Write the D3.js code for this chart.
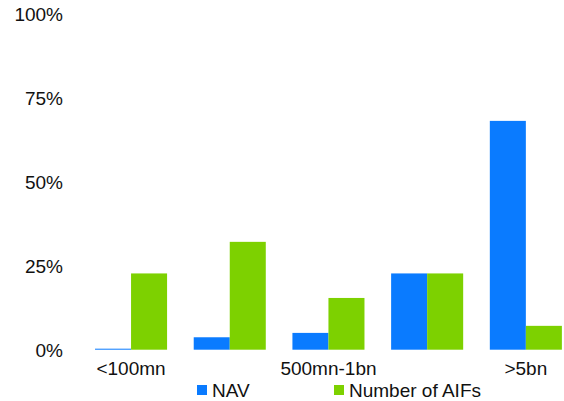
<!DOCTYPE html>
<html>
<head>
<meta charset="utf-8">
<script src="https://cdn.jsdelivr.net/npm/d3@7"></script>
<style>
  html, body { margin: 0; padding: 0; background: #fff; overflow: hidden; }
  svg { display: block; font-family: "Liberation Sans", Arial, sans-serif; }
</style>
</head>
<body>
<svg id="chart" width="564" height="401"></svg>
<script>
const categories = ["<100mn", "100mn-500mn", "500mn-1bn", "1bn-5bn", ">5bn"];
const shownLabels = ["<100mn", "500mn-1bn", ">5bn"];
const seriesNames = ["NAV", "Number of AIFs"];
const navValues = [0.003, 0.037, 0.050, 0.227, 0.681];
const aifValues = [0.227, 0.321, 0.154, 0.227, 0.071];
const yTicks = [0, 0.25, 0.5, 0.75, 1];
const colors = ["#0A7BFF", "#7DD100"];

const svg = d3.select("#chart");
const seriesValues = [navValues, aifValues];

const x0 = d3.scaleBand().domain(categories).range([81.7, 575.2])
  .paddingInner(0.27).paddingOuter(0.135);
const x1 = d3.scaleBand().domain(seriesNames).range([0, x0.bandwidth()]);
const y = d3.scaleLinear().domain([0, 1]).range([349.7, 13.7]);
const color = d3.scaleOrdinal().domain(seriesNames).range(colors);

// bars
const groups = svg.append("g").selectAll("g")
  .data(categories).join("g")
  .attr("transform", c => `translate(${x0(c)},0)`);
groups.selectAll("rect")
  .data((c, i) => seriesNames.map((s, k) => ({ s, v: seriesValues[k][i] })))
  .join("rect")
  .attr("x", d => x1(d.s))
  .attr("width", x1.bandwidth())
  .attr("y", d => y(d.v))
  .attr("height", d => y(0) - y(d.v))
  .attr("fill", d => color(d.s));

// y axis
const yAxis = d3.axisLeft(y).tickValues(yTicks).tickFormat(d3.format(".0%"))
  .tickSize(0).tickPadding(0);
const gy = svg.append("g").attr("transform", "translate(63,0)").call(yAxis);
gy.select(".domain").remove();
gy.selectAll("text").attr("font-size", 19).attr("fill", "#111")
  .attr("font-family", "Liberation Sans, Arial, sans-serif").attr("dy", "0.36em");

// x axis
const xAxis = d3.axisBottom(x0).tickValues(shownLabels).tickSize(0).tickPadding(0);
const gx = svg.append("g").attr("transform", `translate(0,${y(0)})`).call(xAxis);
gx.select(".domain").remove();
gx.selectAll("text").attr("font-size", 19).attr("fill", "#111")
  .attr("font-family", "Liberation Sans, Arial, sans-serif").attr("dy", "1.32em");

// legend
const legendX = [197, 334];
const legend = svg.append("g").selectAll("g").data(seriesNames).join("g")
  .attr("transform", (d, i) => `translate(${legendX[i]},385)`);
legend.append("rect").attr("width", 10).attr("height", 10).attr("fill", d => color(d));
legend.append("text").attr("x", 15).attr("y", 12).attr("font-size", 19)
  .attr("fill", "#111").text(d => d);
</script>
</body>
</html>
